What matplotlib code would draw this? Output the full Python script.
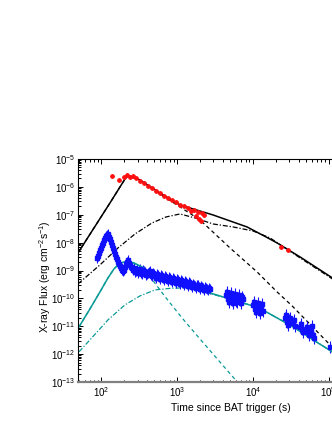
import numpy as np
import matplotlib
matplotlib.use("Agg")
import matplotlib.pyplot as plt
from matplotlib.ticker import LogLocator, NullFormatter

plt.rcParams["font.family"] = "Liberation Sans"
plt.rcParams["mathtext.fontset"] = "custom"
plt.rcParams["mathtext.rm"] = "Liberation Sans"
plt.rcParams["mathtext.it"] = "Liberation Sans:italic"
plt.rcParams["mathtext.bf"] = "Liberation Sans:bold"
plt.rcParams["xtick.labelsize"] = 7
plt.rcParams["ytick.labelsize"] = 7

black = '#000000'
teal = '#0a9a96'
red = '#ff1010'
blue = '#1010ff'

# ---- model curves (log10 t [s], log10 flux [erg cm^-2 s^-1]) ----
# first burst, total fit
bk_logt = [1.690, 2.112, 2.244, 2.310, 2.350, 2.416, 2.509, 2.773, 3.037, 3.473, 3.922, 4.173, 4.318, 4.622, 5.110]
bk_logf = [-8.369, -6.577, -6.004, -5.717, -5.609, -5.645, -5.753, -6.219, -6.649, -7.007, -7.437, -7.796, -8.011, -8.513, -9.373]
# first burst, steep component (dashed)
bkd_logt = [1.690, 2.112, 2.244, 2.310, 2.350, 2.416, 2.509, 2.773, 3.037, 3.301, 3.697, 4.054, 4.318, 4.517, 5.018, 5.110]
bkd_logf = [-8.369, -6.577, -6.004, -5.717, -5.609, -5.645, -5.753, -6.254, -6.720, -7.186, -8.190, -9.050, -9.767, -10.269, -11.667, -11.918]
# first burst, plateau component (dash-dot)
bkp_logt = [1.690, 1.782, 1.980, 2.218, 2.443, 2.667, 2.852, 3.037, 3.235, 3.473, 3.737, 4.001, 4.226, 4.622, 5.110]
bkp_logf = [-9.480, -9.265, -8.799, -8.190, -7.688, -7.294, -7.079, -6.971, -7.115, -7.330, -7.437, -7.581, -7.832, -8.548, -9.409]

# second burst, total fit
tl_logt = [1.703, 1.848, 1.980, 2.086, 2.165, 2.231, 2.297, 2.363, 2.429, 2.535, 2.667, 2.878, 3.116, 3.301, 3.737, 4.081, 4.530, 4.794, 5.110]
tl_logf = [-11.022, -10.376, -9.767, -9.265, -8.943, -8.763, -8.692, -8.692, -8.728, -8.871, -9.122, -9.409, -9.588, -9.695, -10.054, -10.341, -11.022, -11.487, -12.025]
# second burst, steep component (dashed)
tld_logt = [1.703, 1.848, 1.980, 2.086, 2.165, 2.231, 2.297, 2.363, 2.429, 2.535, 2.667, 2.852, 3.063, 3.288, 3.539, 3.803]
tld_logf = [-11.022, -10.376, -9.767, -9.265, -8.943, -8.763, -8.692, -8.692, -8.728, -8.907, -9.315, -9.982, -10.699, -11.416, -12.204, -13.029]
# second burst, plateau component (dash-dot)
tlp_logt = [1.703, 1.848, 2.086, 2.310, 2.509, 2.707, 2.905, 3.103, 3.301, 3.737, 4.081, 4.530, 4.794, 5.110]
tlp_logf = [-11.918, -11.487, -10.771, -10.233, -9.910, -9.695, -9.640, -9.620, -9.730, -10.054, -10.341, -11.022, -11.487, -12.025]

# ---- data points ----
red_logt = [2.139, 2.231, 2.297, 2.337, 2.376, 2.416, 2.456, 2.509, 2.561, 2.614, 2.667, 2.720, 2.773, 2.826,
            2.878, 2.931, 2.984, 3.037, 3.090, 3.143, 3.182, 3.222, 3.275, 3.328, 3.248, 3.288, 3.314, 3.354,
            4.371, 4.463]
red_logf = [-5.609, -5.753, -5.645, -5.573, -5.645, -5.609, -5.681, -5.789, -5.860, -5.968, -6.039, -6.147, -6.219, -6.326,
            -6.398, -6.470, -6.541, -6.649, -6.685, -6.756, -6.864, -6.828, -6.900, -6.935, -7.043, -7.151, -7.222, -7.007,
            -8.154, -8.262]

blue_logt = [1.941, 1.967, 1.993, 2.020, 2.046, 2.073, 2.099, 2.125, 2.152, 2.178, 2.205, 2.231, 2.258, 2.284,
             2.310, 2.337, 2.363, 2.390, 2.416, 2.443, 2.469, 2.495, 2.522, 2.548, 2.575, 2.601, 2.627, 2.654,
             2.680, 2.707, 2.733, 2.760, 2.786, 2.812, 2.839, 2.865, 2.892, 2.918, 2.944, 2.971, 2.997, 3.024,
             3.050, 3.077, 3.103, 3.129, 3.156, 3.182, 3.209, 3.235, 3.262, 3.288, 3.314, 3.341, 3.367, 3.394, 3.420,
             1.954, 1.980, 2.007, 2.033, 2.059, 2.086, 2.112, 2.139, 2.165, 2.192, 2.218, 2.244, 2.271, 2.297,
             2.324, 2.350, 2.376, 2.403, 2.429, 2.456, 2.482, 2.509, 2.535, 2.561, 2.588, 2.614, 2.641, 2.667,
             2.694, 2.720, 2.746, 2.773, 2.799, 2.826, 2.852, 2.878, 2.905, 2.931, 2.958, 2.984, 3.011, 3.037,
             3.063, 3.090, 3.116, 3.143, 3.169, 3.196, 3.222, 3.248, 3.275, 3.301, 3.328, 3.354, 3.380, 3.407, 3.433]
blue_logf = [-8.548, -8.369, -8.190, -8.011, -7.832, -7.724, -7.796, -7.975, -8.190, -8.405, -8.584, -8.763, -8.907, -9.014,
             -8.871, -8.692, -8.728, -8.871, -8.978, -9.050, -8.943, -9.014, -9.086, -8.978, -9.050, -9.122, -9.050, -9.158,
             -9.086, -9.194, -9.122, -9.229, -9.158, -9.265, -9.194, -9.301, -9.229, -9.337, -9.265, -9.373, -9.301, -9.409,
             -9.337, -9.444, -9.373, -9.480, -9.409, -9.516, -9.480, -9.552, -9.516, -9.588, -9.552, -9.624, -9.588, -9.659, -9.624,
             -8.477, -8.262, -8.082, -7.903, -7.760, -7.688, -7.867, -8.082, -8.297, -8.513, -8.692, -8.835, -8.978, -8.978,
             -8.763, -8.620, -8.799, -8.907, -8.907, -9.014, -9.086, -8.943, -9.122, -9.014, -9.158, -9.086, -9.014, -9.194,
             -9.122, -9.265, -9.158, -9.301, -9.194, -9.337, -9.229, -9.373, -9.265, -9.409, -9.301, -9.444, -9.337, -9.480,
             -9.373, -9.516, -9.409, -9.552, -9.444, -9.588, -9.516, -9.624, -9.516, -9.659, -9.588, -9.695, -9.624, -9.695, -9.659]

late_logt = [3.645, 3.671, 3.697, 3.724, 3.750, 3.777, 3.803, 3.830, 3.856,
             3.658, 3.684, 3.711, 3.737, 3.764, 3.790, 3.816, 3.843, 3.869,
             4.001, 4.028, 4.054, 4.081, 4.107, 4.133, 4.015, 4.041, 4.067, 4.094, 4.120,
             4.424, 4.450, 4.477, 4.437, 4.463, 4.490, 4.530, 4.556, 4.543,
             4.622, 4.649, 4.635, 4.662, 4.701, 4.728, 4.715, 4.741, 4.767, 4.794, 4.781, 4.807, 5.018]
late_logf = [-9.875, -10.018, -9.910, -10.054, -9.946, -10.090, -9.982, -10.054, -9.946,
             -9.767, -10.125, -9.803, -10.161, -9.839, -10.125, -9.875, -10.161, -10.018,
             -10.233, -10.376, -10.269, -10.412, -10.305, -10.448, -10.125, -10.484, -10.161, -10.520, -10.197,
             -10.699, -10.842, -10.771, -10.591, -10.950, -10.699, -10.878, -10.986, -10.771,
             -11.022, -11.093, -10.914, -11.201, -11.129, -11.201, -11.022, -11.308, -11.165, -11.308, -10.986, -11.416, -11.738]


def lin(a):
    return 10 ** np.asarray(a)


def errs(logv, dex):
    v = lin(logv)
    return [v - v / 10 ** dex, v * 10 ** dex - v]


fig = plt.figure(figsize=(3.32, 4.30), dpi=100)
ax = fig.add_axes([0.235, 0.1116, 0.781, 0.5186])

ax.plot(lin(bkd_logt), lin(bkd_logf), color=black, lw=0.9, dashes=(3, 2.5))
ax.plot(lin(bkp_logt), lin(bkp_logf), color=black, lw=0.9, dashes=(4, 1.5, 1, 1.5))
ax.plot(lin(bk_logt), lin(bk_logf), color=black, lw=1.1)

ax.plot(lin(tld_logt), lin(tld_logf), color=teal, lw=0.9, dashes=(3, 2.5))
ax.plot(lin(tlp_logt), lin(tlp_logf), color=teal, lw=0.9, dashes=(4, 1.5, 1, 1.5))

ax.errorbar(lin(blue_logt), lin(blue_logf), yerr=errs(blue_logf, 0.19), xerr=errs(blue_logt, 0.014),
            fmt='s', ms=2.3, color=blue, mec=blue, ecolor=blue, elinewidth=0.8, capsize=0)
ax.errorbar(lin(late_logt), lin(late_logf), yerr=errs(late_logf, 0.22), xerr=errs(late_logt, 0.012),
            fmt='s', ms=2.3, color=blue, mec=blue, ecolor=blue, elinewidth=0.8, capsize=0)
ax.errorbar(lin(red_logt), lin(red_logf), yerr=errs(red_logf, 0.06), xerr=errs(red_logt, 0.03),
            fmt='o', ms=2.4, color=red, mec=red, ecolor=red, elinewidth=0.7, capsize=0)

ax.plot(lin(tl_logt), lin(tl_logf), color=teal, lw=1.1)

ax.set_xscale('log')
ax.set_yscale('log')
ax.set_xlim(49, 1.3e5)
ax.set_ylim(1e-13, 1e-5)

ax.xaxis.set_major_locator(LogLocator(base=10, numticks=20))
ax.xaxis.set_minor_locator(LogLocator(base=10, subs=np.arange(2, 10), numticks=100))
ax.yaxis.set_major_locator(LogLocator(base=10, numticks=20))
ax.yaxis.set_minor_locator(LogLocator(base=10, subs=np.arange(2, 10), numticks=100))
ax.xaxis.set_minor_formatter(NullFormatter())
ax.yaxis.set_minor_formatter(NullFormatter())

ax.tick_params(which='both', direction='in', top=True, right=True, width=0.7)
ax.tick_params(which='major', length=3.5, pad=2)
ax.tick_params(which='minor', length=1.8)
for s in ['left', 'top', 'right']:
    ax.spines[s].set_linewidth(0.8)
ax.spines['bottom'].set_color('#808080')
ax.spines['bottom'].set_linewidth(1.6)

fig.text(0.696, 0.051, 'Time since BAT trigger (s)', fontsize=7.5, ha='center', va='center')
fig.text(0.136, 0.356, r'X-ray Flux (erg cm$^{-2}$s$^{-1}$)', fontsize=7.5,
         rotation=90, ha='center', va='center')

fig.savefig('out.png', dpi=100)
